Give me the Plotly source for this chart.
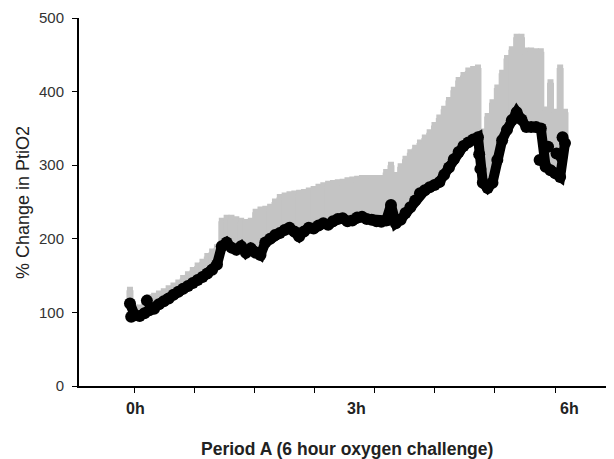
import plotly.graph_objects as go

# Time since start of period A (minutes) - main trace
minutes = [0, 4, 8, 12, 16, 20, 24, 28, 32, 36, 40, 44, 48, 52, 56, 60, 64, 68,
           72, 76, 80, 84, 88, 92, 96, 100, 104, 108, 112, 116, 120, 124, 128, 132, 136,
           140, 144, 148, 152, 156, 160, 164, 168, 172, 176, 180, 184, 188, 192, 196, 200,
           204, 208, 212, 216, 220, 224, 228, 232, 236, 240, 244, 248, 252, 256, 260, 264,
           268, 272, 276, 280, 284, 288, 292, 296, 300, 304, 308, 312, 316, 320,
           324, 328, 332, 336, 340, 344, 348, 352, 356, 360]

# Mean % change in PtiO2
pct_change = [112, 96, 95, 99, 103, 105, 111, 115, 119, 124, 128, 132, 136, 140, 144,
              148, 153, 158, 165, 190, 195, 188, 185, 190, 181, 187, 181, 178, 195, 200, 205,
              208, 212, 215, 210, 203, 210, 215, 214, 218, 221, 219, 224, 227, 228, 224, 225,
              229, 230, 227, 226, 224, 223, 225, 246, 221, 226, 235, 243, 252, 262, 266, 270,
              273, 277, 287, 297, 308, 318, 326, 331, 335, 338, 276, 269, 276, 307,
              334, 348, 361, 372, 362, 352, 352, 352, 350, 298, 293, 289, 284, 330]

# Upper error bar (SEM)
err_upper = [18, 10, 11, 13, 17, 17, 14, 13, 13, 12, 12, 14, 15, 17, 19, 20, 23, 24,
             23, 34, 33, 40, 41, 34, 41, 37, 55, 61, 45, 43, 45, 48, 46, 45, 51, 59, 53, 50,
             53, 52, 51, 55, 51, 49, 49, 55, 55, 52, 52, 55, 56, 58, 59, 65, 54, 65, 72, 73,
             74, 71, 68, 71, 74, 81, 87, 89, 91, 94, 97, 96, 97, 95, 94, 69, 97, 109,
             98, 91, 97, 96, 102, 112, 103, 103, 102, 104, 77, 119, 83, 148, 42]

# Isolated readings
extra_minutes = [1, 14, 289, 290, 339, 346, 353, 357, 358]
extra_values = [94, 116, 315, 295, 307, 325, 316, 311, 338]

y_ticks = [0, 100, 200, 300, 400, 500]
x_labels = ["0h", "3h", "6h"]
x_label_hours = [0.07, 3.13, 6.06]

hours = [m / 60 for m in minutes]
extra_hours = [m / 60 for m in extra_minutes]
zeros = [0] * len(hours)

FONT = "Liberation Sans, Arial, sans-serif"

fig = go.Figure()
fig.add_trace(go.Scatter(
    x=hours, y=pct_change, mode="markers",
    marker=dict(size=10, color="rgba(0,0,0,0)"),
    error_y=dict(type="data", symmetric=False, array=err_upper, arrayminus=zeros,
                 color="#c4c4c4", thickness=7, width=3),
    hoverinfo="skip", showlegend=False,
))
fig.add_trace(go.Scatter(
    x=hours, y=pct_change, mode="lines+markers",
    line=dict(color="black", width=10),
    marker=dict(size=12, color="black"),
    showlegend=False,
))
fig.add_trace(go.Scatter(
    x=extra_hours, y=extra_values, mode="markers",
    marker=dict(size=12, color="black"),
    showlegend=False,
))

annotations = []
for lab, h in zip(x_labels, x_label_hours):
    annotations.append(dict(text="<b>%s</b>" % lab, x=h, xref="x", y=-0.060, yref="paper",
                            showarrow=False, xanchor="center", yanchor="middle",
                            font=dict(family=FONT, size=16, color="#222")))
annotations.append(dict(text="<b>Period A (6 hour oxygen challenge)</b>", x=0.5, xref="paper",
                        y=-0.171, yref="paper", showarrow=False, xanchor="center",
                        yanchor="middle", font=dict(family=FONT, size=17.5, color="#222")))
annotations.append(dict(text="% Change in PtiO2", x=-0.1047, xref="paper", y=0.5, yref="paper",
                        textangle=-90, showarrow=False, xanchor="center", yanchor="middle",
                        font=dict(family=FONT, size=18, color="#222")))

fig.update_layout(
    width=606, height=451,
    margin=dict(l=71, r=0, t=10, b=73),
    paper_bgcolor="white", plot_bgcolor="white",
    font=dict(family=FONT, color="#222"),
    annotations=annotations,
    xaxis=dict(range=[-0.703, 6.676], showgrid=False, zeroline=False,
               showline=True, linecolor="black", linewidth=2,
               tickmode="linear", tick0=0.069, dtick=0.8276,
               ticks="outside", ticklen=5, tickcolor="black", tickwidth=1,
               showticklabels=False),
    yaxis=dict(range=[0, 500], showgrid=False, zeroline=False,
               showline=True, linecolor="black", linewidth=2,
               tickmode="array", tickvals=y_ticks,
               ticks="outside", ticklen=5, tickcolor="black", tickwidth=1,
               tickfont=dict(family=FONT, size=15, color="#333"),
               ticklabelstandoff=5),
)

fig.write_html("out.html")
